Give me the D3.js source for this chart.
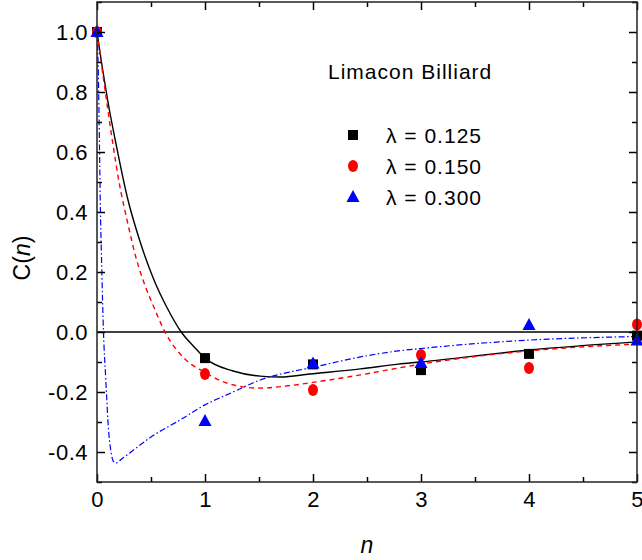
<!DOCTYPE html>
<html>
<head>
<meta charset="utf-8">
<script src="https://cdn.jsdelivr.net/npm/d3@7"></script>
<style>
  body { margin: 0; background: #fff; }
  svg { display: block; font-family: Arial, "Liberation Sans", sans-serif; }
</style>
</head>
<body>
<svg id="chart" width="642" height="560"></svg>
<script>
// ---- data ----
const nValues = [0, 1, 2, 3, 4, 5];
const series = ["λ = 0.125", "λ = 0.150", "λ = 0.300"];
const pts0125 = [1.0, -0.087, -0.108, -0.127, -0.073, -0.012];
const pts0150 = [1.0, -0.140, -0.193, -0.077, -0.120, 0.025];
const pts0300 = [1.0, -0.297, -0.105, -0.103, 0.023, -0.028];

const fitN0125 = [0, 0.05, 0.1, 0.18, 0.28, 0.4, 0.52, 0.65, 0.78, 0.9, 1.0, 1.26, 1.51, 1.7, 1.97, 2.44, 2.79, 3.0, 4.0, 5.0];
const fitC0125 = [1.0, 0.88, 0.77, 0.62, 0.45, 0.30, 0.18, 0.08, 0.0, -0.05, -0.087, -0.13, -0.147, -0.15, -0.14, -0.123, -0.107, -0.1, -0.06, -0.033];

const fitN0150 = [0, 0.046, 0.093, 0.15, 0.204, 0.28, 0.367, 0.45, 0.53, 0.63, 0.8, 1.0, 1.2, 1.5, 1.8, 2.0, 2.44, 2.79, 3.0, 4.0, 5.0];
const fitC0150 = [1.0, 0.88, 0.76, 0.62, 0.5, 0.37, 0.24, 0.15, 0.08, 0.0, -0.085, -0.135, -0.17, -0.187, -0.178, -0.168, -0.143, -0.12, -0.107, -0.063, -0.04];

const fitN0300 = [0, 0.01, 0.02, 0.03, 0.045, 0.06, 0.08, 0.09, 0.1, 0.13, 0.15, 0.17, 0.24, 0.35, 0.5, 0.77, 1.0, 1.26, 1.51, 1.79, 1.97, 2.44, 2.79, 3.0, 4.0, 5.0];
const fitC0300 = [1.0, 0.9, 0.7, 0.44, 0.2, 0.0, -0.15, -0.22, -0.29, -0.4, -0.43, -0.437, -0.42, -0.39, -0.35, -0.293, -0.243, -0.2, -0.16, -0.133, -0.12, -0.083, -0.063, -0.055, -0.027, -0.015];

const xMajor = [0, 1, 2, 3, 4, 5];
const xMinor = [0.5, 1.5, 2.5, 3.5, 4.5];
const yMajor = [-0.4, -0.2, 0.0, 0.2, 0.4, 0.6, 0.8, 1.0];
const yMinor = [-0.5, -0.3, -0.1, 0.1, 0.3, 0.5, 0.7, 0.9, 1.1];
const legendTitle = "Limacon Billiard";

// ---- layout ----
const svg = d3.select("#chart");
const L = 97, R = 637, T = 2, B = 482;
const x = d3.scaleLinear().domain([0, 5]).range([L, R]);
const y = d3.scaleLinear().domain([-0.5, 1.1]).range([B, T]);
const colors = ["#000000", "#ff0000", "#0000ff"];
const fontSize = 21;
const tickFont = 22;

// zero line
svg.append("line")
  .attr("x1", x(0)).attr("x2", x(5)).attr("y1", y(0)).attr("y2", y(0))
  .attr("stroke", "#000").attr("stroke-width", 1.5);

// fit curves
const line = d3.line().x(d => x(d[0])).y(d => y(d[1])).curve(d3.curveMonotoneX);
const fits = [
  { n: fitN0125, c: fitC0125, color: colors[0], dash: null, w: 1.4 },
  { n: fitN0150, c: fitC0150, color: colors[1], dash: "5,4", w: 1.4 },
  { n: fitN0300, c: fitC0300, color: colors[2], dash: "6,2.5,1.5,2.5", w: 1.2 }
];
fits.forEach(f => {
  svg.append("path")
    .datum(f.n.map((v, i) => [v, f.c[i]]))
    .attr("d", line)
    .attr("fill", "none")
    .attr("stroke", f.color)
    .attr("stroke-width", f.w)
    .attr("stroke-dasharray", f.dash);
});

// markers
function drawMarker(g, type, cx, cy, color) {
  if (type === 0) {
    g.append("rect").attr("x", cx - 5).attr("y", cy - 5).attr("width", 10).attr("height", 10).attr("fill", color);
  } else if (type === 1) {
    g.append("ellipse").attr("cx", cx).attr("cy", cy).attr("rx", 5).attr("ry", 6).attr("fill", color);
  } else {
    g.append("path").attr("d", `M${cx},${cy - 7}L${cx + 6.5},${cy + 5}L${cx - 6.5},${cy + 5}Z`).attr("fill", color);
  }
}
const ptsAll = [pts0125, pts0150, pts0300];
const mg = svg.append("g");
ptsAll.forEach((arr, si) => {
  arr.forEach((v, i) => drawMarker(mg, si, x(nValues[i]), y(v), colors[si]));
});

// axes (ticks inside)
function addAxis(axisFn, scale, vals, size, labels, transform) {
  const a = axisFn(scale).tickValues(vals).tickSizeInner(-size).tickSizeOuter(0)
    .tickPadding(labels ? 9 : 0);
  if (labels) a.tickFormat(labels); else a.tickFormat("");
  const g = svg.append("g").attr("transform", transform).call(a);
  g.select(".domain").remove();
  g.selectAll(".tick line").attr("stroke", "#000").attr("stroke-width", 1.5);
  g.selectAll(".tick text").attr("fill", "#000").style("font-size", tickFont + "px").style("letter-spacing", "0.5px");
  return g;
}
const yFmt = v => d3.format(".1f")(v).replace("\u2212", "-");
addAxis(d3.axisBottom, x, xMajor, 8, d3.format("d"), `translate(0,${B})`);
addAxis(d3.axisBottom, x, xMinor, 5, null, `translate(0,${B})`);
addAxis(d3.axisTop, x, xMajor, 8, null, `translate(0,${T})`);
addAxis(d3.axisTop, x, xMinor, 5, null, `translate(0,${T})`);
addAxis(d3.axisLeft, y, yMajor, 8, yFmt, `translate(${L},0)`);
addAxis(d3.axisLeft, y, yMinor, 5, null, `translate(${L},0)`);
addAxis(d3.axisRight, y, yMajor, 8, null, `translate(${R},0)`);
addAxis(d3.axisRight, y, yMinor, 5, null, `translate(${R},0)`);

// frame
svg.append("rect").attr("x", L).attr("y", T).attr("width", R - L).attr("height", B - T)
  .attr("fill", "none").attr("stroke", "#222").attr("stroke-width", 1.5);

// axis titles
svg.append("text").attr("x", x(2.5)).attr("y", 553).attr("text-anchor", "middle")
  .style("font-size", "23px").style("font-style", "italic").text("n");
const yt = svg.append("text").attr("transform", "translate(30,258) rotate(-90)")
  .attr("text-anchor", "middle").style("font-size", "23px");
yt.append("tspan").text("C(");
yt.append("tspan").style("font-style", "italic").text("n");
yt.append("tspan").text(")");

// legend
svg.append("text").attr("x", 328).attr("y", 79).style("font-size", fontSize + "px")
  .style("letter-spacing", "1px").text(legendTitle);
const legY = [135, 166, 197];
series.forEach((s, i) => {
  drawMarker(svg, i, 353, legY[i], colors[i]);
  svg.append("text").attr("x", 386).attr("y", legY[i] + 7.5)
    .style("font-size", fontSize + "px").style("letter-spacing", "1px").text(s);
});
</script>
</body>
</html>
